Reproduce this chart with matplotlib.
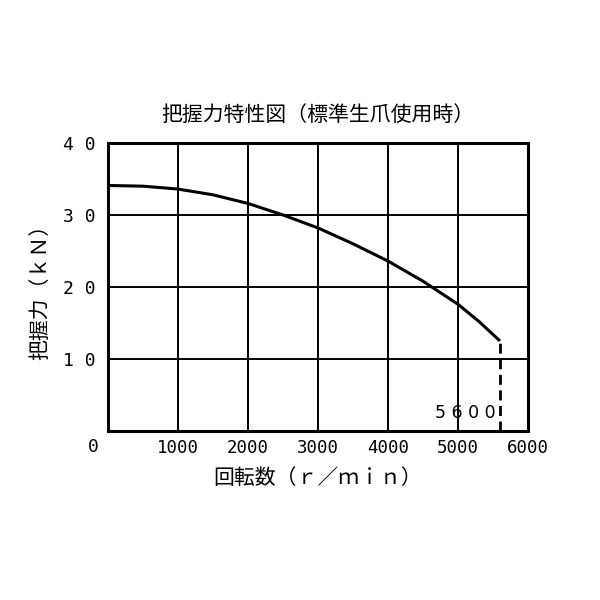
import numpy as np
import matplotlib.pyplot as plt

plt.rcParams['font.family'] = ['Noto Sans CJK JP', 'DejaVu Sans']

# grip force vs spindle speed
rpm = [0, 500, 1000, 1500, 2000, 2500, 3000, 3500, 4000, 4500, 5000, 5300, 5600]
force = [34.1, 34.0, 33.6, 32.8, 31.6, 30.0, 28.2, 26.0, 23.6, 20.8, 17.6, 15.2, 12.5]

x_ticks = [1000, 2000, 3000, 4000, 5000, 6000]
y_ticks = [10, 20, 30, 40]
max_rpm = 5600

num_font = dict(family='DejaVu Sans Mono', fontsize=12.5)

fig = plt.figure(figsize=(6, 6), dpi=100)
ax = fig.add_axes([0.18, 0.2817, 0.70, 0.48])

ax.plot(rpm, force, color='black', lw=2.2, solid_capstyle='butt')
ax.plot([max_rpm, max_rpm], [0, force[-1]], color='black', lw=2, ls=(0, (3.6, 2.0)))

ax.set_xlim(0, 6000)
ax.set_ylim(0, 40)
ax.set_xticks(x_ticks)
ax.set_yticks(y_ticks)
ax.set_xticklabels([str(v) for v in x_ticks], **num_font)
ax.set_yticklabels([' '.join(str(v)) for v in y_ticks], family='DejaVu Sans Mono', fontsize=13)
ax.tick_params(axis='x', length=0, pad=6)
ax.tick_params(axis='y', length=0, pad=9)
ax.grid(True, color='black', lw=1.4)
for s in ax.spines.values():
    s.set_linewidth(2.2)

ax.annotate('0', (0, 0), xytext=(-15, -16), textcoords='offset pixels',
            ha='center', va='center', family='DejaVu Sans Mono', fontsize=13)
ax.annotate(' '.join(str(max_rpm)), (max_rpm, 2.5), xytext=(-4, 0), textcoords='offset pixels',
            ha='right', va='center', family='DejaVu Sans', fontsize=12.5)

ax.set_title('把握力特性図（標準生爪使用時）', fontsize=15, pad=16)
ax.set_xlabel('回転数（ｒ／ｍｉｎ）', fontsize=15, labelpad=7)
ax.set_ylabel('把握力（ｋＮ）', fontsize=15, labelpad=8)

fig.savefig('out.png', dpi=100)
